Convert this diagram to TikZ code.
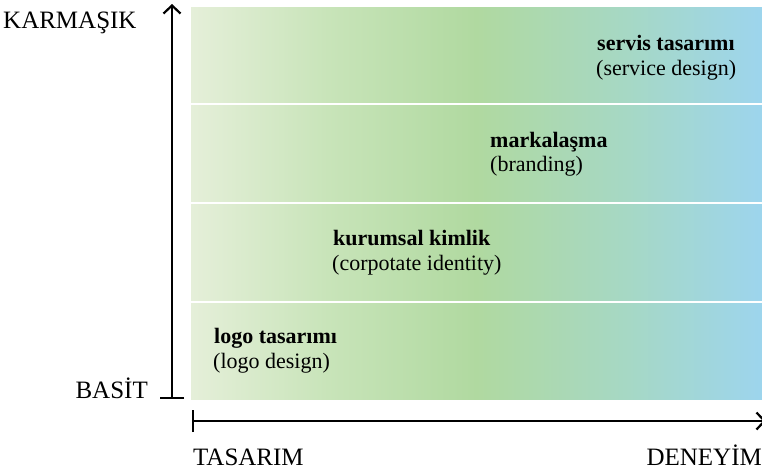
\documentclass[tikz,border=0pt]{standalone}
\usepackage{fontspec}
\setmainfont{Liberation Serif}
\usetikzlibrary{arrows.meta}
\definecolor{gA}{RGB}{229,239,217}
\definecolor{gB}{RGB}{200,228,185}
\definecolor{gC}{RGB}{176,217,160}
\definecolor{gD}{RGB}{166,216,196}
\definecolor{gE}{RGB}{157,213,237}
\pgfdeclarehorizontalshading{bandshade}{100bp}{color(0bp)=(gA); color(25bp)=(gA); color(37bp)=(gB); color(50bp)=(gC); color(63bp)=(gD); color(75bp)=(gE); color(100bp)=(gE)}
\tikzset{
  axislabel/.style={font=\fontsize{25}{28}\selectfont, inner sep=0pt},
  titlelabel/.style={font=\fontsize{22}{25}\selectfont\bfseries, inner sep=0pt, anchor=base west},
  sublabel/.style={font=\fontsize{22}{25}\selectfont, inner sep=0pt, anchor=base west},
  axisline/.style={line width=2.2pt, black},
  sepline/.style={white, line width=2.5pt}
}
\begin{document}
\begin{tikzpicture}[x=1pt,y=-1pt]
\useasboundingbox (0,0) rectangle (762,471);
% gradient field
\shade[shading=bandshade] (191,7) rectangle (762,399);
\coordinate (s1l) at (191,104); \coordinate (s1r) at (762,104);
\coordinate (s2l) at (191,203); \coordinate (s2r) at (762,203);
\coordinate (s3l) at (191,302); \coordinate (s3r) at (762,302);
\draw[sepline] (s1l) -- (s1r);
\draw[sepline] (s2l) -- (s2r);
\draw[sepline] (s3l) -- (s3r);
% axes
\coordinate (vbot) at (172,399);
\coordinate (vtop) at (172,4);
\draw[axisline, {Bar[width=24pt,line width=2.2pt]}-{Straight Barb[length=8pt,width=17pt,line width=2.2pt]}] (vbot) -- (vtop);
\coordinate (hl) at (192,421);
\coordinate (hr) at (766,421);
\draw[axisline, {Bar[width=22pt,line width=2.2pt]}-{Straight Barb[length=8pt,width=17pt,line width=2.2pt]}] (hl) -- (hr);
% axis labels
\node[axislabel, anchor=base west] (karm) at (3,28) {KARMAŞIK};
\node[axislabel, anchor=base east] (basit) at (148,398) {BASİT};
\node[axislabel, anchor=base west] (tas) at (193,465) {TASARIM};
\node[axislabel, anchor=base east] (den) at (762,465) {DENEYİM};
% band labels
\node[titlelabel] (t4) at (597,50) {servis tasarımı};
\node[sublabel] (s4) at (596,75) {(service design)};
\node[titlelabel] (t3) at (490,147) {markalaşma};
\node[sublabel] (s3) at (490,171) {(branding)};
\node[titlelabel] (t2) at (333,245) {kurumsal kimlik};
\node[sublabel] (s2) at (332,270) {(corpotate identity)};
\node[titlelabel] (t1) at (214,343) {logo tasarımı};
\node[sublabel] (s1) at (213,368) {(logo design)};
\end{tikzpicture}
\end{document}
